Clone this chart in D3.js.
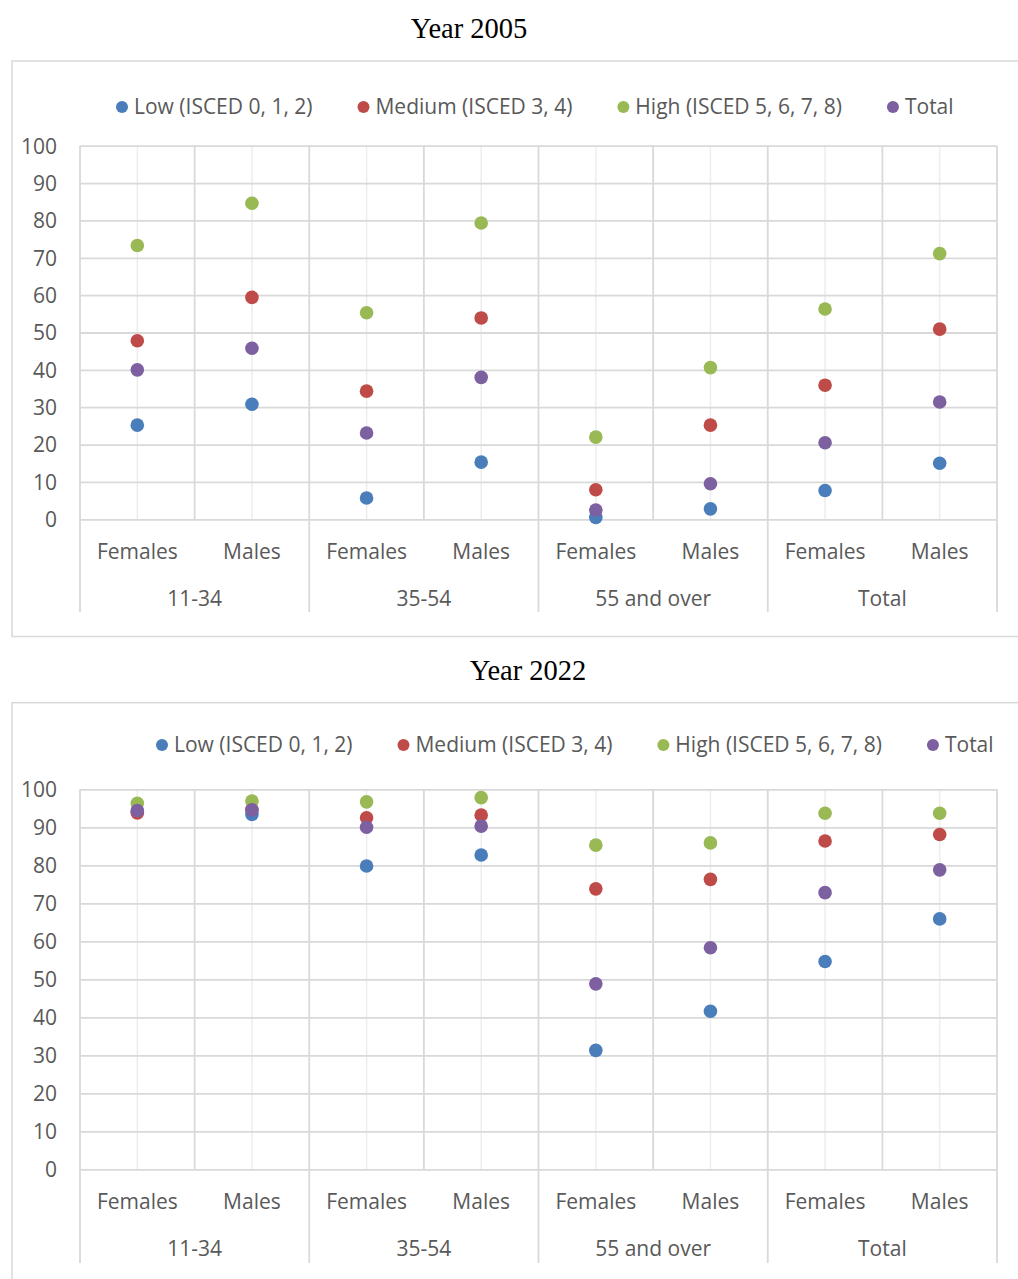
<!DOCTYPE html>
<html>
<head>
<meta charset="utf-8">
<script src="https://cdn.jsdelivr.net/npm/d3@7"></script>
<style>
  html, body { margin: 0; padding: 0; background: #ffffff; }
  svg { display: block; }
</style>
</head>
<body>
<svg id="chart" width="1018" height="1279"></svg>
<script>
// ---------- Data ----------
const groups = ["11-34", "35-54", "55 and over", "Total"];
const sexes = ["Females", "Males"];
const seriesNames = ["Low (ISCED 0, 1, 2)", "Medium (ISCED 3, 4)", "High (ISCED 5, 6, 7, 8)", "Total"];
const seriesColors = ["#4a7ebb", "#be4b48", "#98b954", "#7d60a0"];
const yTicks = [0, 10, 20, 30, 40, 50, 60, 70, 80, 90, 100];

// order of values: 11-34 F, 11-34 M, 35-54 F, 35-54 M, 55+ F, 55+ M, Total F, Total M
const low2005    = [25.2, 30.8, 5.7, 15.3, 0.5, 2.8, 7.7, 15.0];
const medium2005 = [47.8, 59.4, 34.3, 53.9, 7.9, 25.2, 35.9, 50.9];
const high2005   = [73.3, 84.6, 55.3, 79.3, 22.0, 40.6, 56.3, 71.1];
const total2005  = [40.0, 45.8, 23.1, 38.0, 2.5, 9.5, 20.5, 31.4];

const low2022    = [94.0, 93.4, 79.8, 82.7, 31.3, 41.6, 54.7, 65.9];
const medium2022 = [93.8, 94.7, 92.5, 93.2, 73.8, 76.3, 86.4, 88.1];
const high2022   = [96.3, 96.9, 96.7, 97.8, 85.3, 85.9, 93.7, 93.7];
const total2022  = [94.4, 94.6, 90.0, 90.3, 48.8, 58.3, 72.8, 78.8];

const titles = ["Year 2005", "Year 2022"];

// ---------- Layout ----------
const svg = d3.select("#chart");
const FONT = "'Open Sans', 'Noto Sans', sans-serif";
const FS = 21;
const LABEL = "#595959";
const GRID = "#d9d9d9";
const GRID_LIGHT = "#ededed";

const categories = [];
groups.forEach(g => sexes.forEach(s => categories.push(g + "|" + s)));

const layouts = [
  { title: titles[0], titleX: 469, titleY: 38, frameY: 61, frameH: 575.5,
    legendX: 122, legendY: 107, top: 145.7, bottom: 519.3,
    catY: 558.5, groupY: 605.5, lineBottom: 612,
    series: [low2005, medium2005, high2005, total2005] },
  { title: titles[1], titleX: 528, titleY: 680, frameY: 702.7, frameH: 700,
    legendX: 162, legendY: 745, top: 789.3, bottom: 1169.3,
    catY: 1208.5, groupY: 1255.5, lineBottom: 1263,
    series: [low2022, medium2022, high2022, total2022] }
];

const plotLeft = 80, plotRight = 997;

layouts.forEach(L => {
  const g = svg.append("g");

  // frame
  g.append("rect")
    .attr("x", 12).attr("y", L.frameY)
    .attr("width", 1020).attr("height", L.frameH)
    .attr("fill", "none").attr("stroke", GRID).attr("stroke-width", 1.5);

  // title
  g.append("text")
    .attr("x", L.titleX).attr("y", L.titleY)
    .attr("text-anchor", "middle")
    .attr("font-family", "'Liberation Serif', 'Times New Roman', serif")
    .attr("font-size", 28.5).attr("fill", "#000")
    .text(L.title);

  const x = d3.scaleBand().domain(categories).range([plotLeft, plotRight]).padding(0);
  const y = d3.scaleLinear().domain([0, 100]).range([L.bottom, L.top]);
  const bw = x.bandwidth();

  // light vertical gridlines at category centers
  g.append("g").selectAll("line").data(categories).join("line")
    .attr("x1", d => x(d) + bw / 2).attr("x2", d => x(d) + bw / 2)
    .attr("y1", L.top).attr("y2", L.bottom)
    .attr("stroke", GRID_LIGHT).attr("stroke-width", 1.5);

  // y axis with horizontal gridlines
  const yAxis = d3.axisLeft(y).tickValues(yTicks).tickSize(-(plotRight - plotLeft)).tickPadding(23);
  const ya = g.append("g").attr("transform", `translate(${plotLeft},0)`).call(yAxis);
  ya.select(".domain").remove();
  ya.selectAll(".tick line").attr("stroke", GRID).attr("stroke-width", 1.8);
  ya.selectAll(".tick text")
    .attr("font-family", FONT).attr("font-size", FS).attr("fill", LABEL)
    .attr("dy", "0.35em");

  // category boundary vertical lines (inside plot)
  const bounds = categories.map(d => x(d)).concat([plotRight]);
  g.append("g").selectAll("line").data(bounds).join("line")
    .attr("x1", d => d).attr("x2", d => d)
    .attr("y1", L.top).attr("y2", L.bottom)
    .attr("stroke", GRID).attr("stroke-width", 1.8);

  // group boundary lines extending below plot
  const gBounds = groups.map(gr => x(gr + "|" + sexes[0])).concat([plotRight]);
  g.append("g").selectAll("line").data(gBounds).join("line")
    .attr("x1", d => d).attr("x2", d => d)
    .attr("y1", L.bottom).attr("y2", L.lineBottom)
    .attr("stroke", GRID).attr("stroke-width", 1.8);

  // category labels
  g.append("g").selectAll("text").data(categories).join("text")
    .attr("x", d => x(d) + bw / 2).attr("y", L.catY)
    .attr("text-anchor", "middle")
    .attr("font-family", FONT).attr("font-size", FS).attr("fill", LABEL)
    .text(d => d.split("|")[1]);

  // group labels
  g.append("g").selectAll("text").data(groups).join("text")
    .attr("x", d => x(d + "|" + sexes[0]) + bw).attr("y", L.groupY)
    .attr("text-anchor", "middle")
    .attr("font-family", FONT).attr("font-size", FS).attr("fill", LABEL)
    .text(d => d);

  // dots
  L.series.forEach((vals, si) => {
    g.append("g").selectAll("circle").data(vals).join("circle")
      .attr("cx", (d, i) => x(categories[i]) + bw / 2)
      .attr("cy", d => y(d))
      .attr("r", 6.8)
      .attr("fill", seriesColors[si]);
  });

  // legend
  const lg = g.append("g");
  let cx = L.legendX;
  seriesNames.forEach((name, si) => {
    lg.append("circle").attr("cx", cx).attr("cy", L.legendY).attr("r", 6).attr("fill", seriesColors[si]);
    const t = lg.append("text")
      .attr("x", cx + 12).attr("y", L.legendY).attr("dy", "0.35em")
      .attr("font-family", FONT).attr("font-size", FS).attr("fill", LABEL)
      .text(name);
    const w = t.node().getComputedTextLength();
    cx = cx + 12 + w + 51;
  });
});
</script>
</body>
</html>
